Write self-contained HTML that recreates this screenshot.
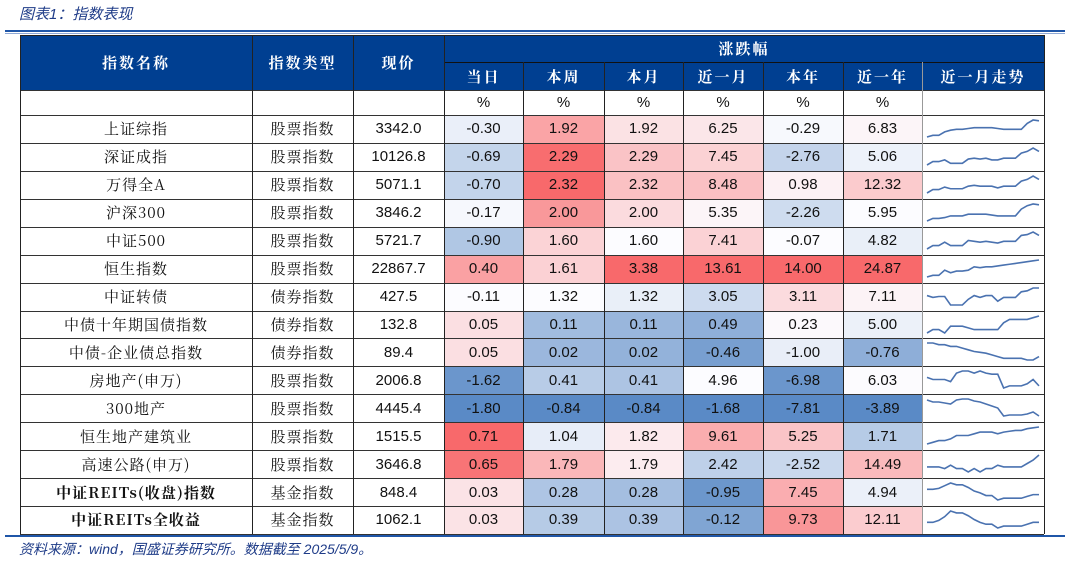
<!DOCTYPE html>
<html><head><meta charset="utf-8">
<style>
body{margin:0;width:1065px;height:562px;background:#fff;position:relative;overflow:hidden;font-family:"Liberation Sans","Noto Serif CJK SC",serif;}
.c{position:absolute;box-sizing:border-box;display:flex;align-items:center;justify-content:center;font-size:15px;color:#111;}
.h{background:#003f91;color:#fff;font-weight:bold;font-family:"Noto Serif CJK SC",serif;font-size:15px;letter-spacing:2px;}
.t{position:absolute;}
</style></head><body>
<div class="t" style="left:19px;top:3px;font-size:15px;font-style:italic;color:#1f3c88;font-family:'Liberation Sans','Noto Sans CJK SC',sans-serif;">图表1：指数表现</div>
<div class="t" style="left:5px;top:30px;width:1060px;height:2px;background:#1f56a8;"></div>
<div class="t" style="left:5px;top:33px;width:1060px;height:1px;background:#8fa9d6;"></div>
<div id="tbl"></div>
<div class="t" style="left:5px;top:535px;width:1060px;height:2px;background:#1f56a8;"></div>
<div class="t" style="left:19px;top:539px;font-size:14px;font-style:italic;color:#1f3c88;font-family:'Liberation Sans','Noto Sans CJK SC',sans-serif;">资料来源：wind，国盛证券研究所。数据截至 2025/5/9。</div>
<script>
const names=["上证综指","深证成指","万得全A","沪深300","中证500","恒生指数","中证转债","中债十年期国债指数","中债-企业债总指数","房地产(申万)","300地产","恒生地产建筑业","高速公路(申万)","中证REITs(收盘)指数","中证REITs全收益"];
const types=["股票指数","股票指数","股票指数","股票指数","股票指数","股票指数","债券指数","债券指数","债券指数","股票指数","股票指数","股票指数","股票指数","基金指数","基金指数"];
const prices=["3342.0","10126.8","5071.1","3846.2","5721.7","22867.7","427.5","132.8","89.4","2006.8","4445.4","1515.5","3646.8","848.4","1062.1"];
const colDay=[-0.30,-0.69,-0.70,-0.17,-0.90,0.40,-0.11,0.05,0.05,-1.62,-1.80,0.71,0.65,0.03,0.03];
const colWeek=[1.92,2.29,2.32,2.00,1.60,1.61,1.32,0.11,0.02,0.41,-0.84,1.04,1.79,0.28,0.39];
const colMonth=[1.92,2.29,2.32,2.00,1.60,3.38,1.32,0.11,0.02,0.41,-0.84,1.82,1.79,0.28,0.39];
const colM1=[6.25,7.45,8.48,5.35,7.41,13.61,3.05,0.49,-0.46,4.96,-1.68,9.61,2.42,-0.95,-0.12];
const colYTD=[-0.29,-2.76,0.98,-2.26,-0.07,14.00,3.11,0.23,-1.00,-6.98,-7.81,5.25,-2.52,7.45,9.73];
const colY1=[6.83,5.06,12.32,5.95,4.82,24.87,7.11,5.00,-0.76,6.03,-3.89,1.71,14.49,4.94,12.11];
const spark=[
[0,1,1,3,4,4.5,4.5,5,5.5,5.5,5.5,5.5,5,4.5,4.5,4.5,4.5,8,10,9.5],
[0,2,2,3,1,1,1,3.5,4,3.5,4,3,3,4,4,4,7,8,10,8],
[0,2,2,3.5,2.5,2.5,2.5,4,4.5,4,4,4,3,4,4,4,7,8,10,8],
[0,1.5,1.5,2,3,3,3,4,4,4,4,3.5,3,3,3,3,7,9,10,9.5],
[0,2,2,4,2,2,2,5,4.5,4,4.5,4,3.5,4.5,4.5,4.5,8,8.5,10,8],
[0,1,1,4,2.5,3.5,3.5,4,6,5.5,6,6,6.5,7,7.5,8,8.5,9,9.5,10],
[6,5,5.5,5.5,1,1,1,4,6,5,6,6,3,5,5,5,8,8.5,10,10],
[0,2,2,0,4,4,4,3,2,2,2,2,2,6,8,8,8,8,9,10],
[10,10,9,9,8,8,7,6,5,4.5,4,3,2,1,1,1,1,0,0,2],
[5,4,4,4,3,7,8,8,7,8,7,6.5,6.5,0,1,1,1,2,4,1],
[8,7,7,6.5,6,8,8.5,8.5,7.5,7,6,5,4,0,0.5,0.5,0.5,1,2,0],
[0,1,2,2,3,5,5,5,6,7,7,7,6,7,7.5,8,8,9,9.5,10],
[3,3,3,2,4,2,2,0,2,0,2,2,4,3,3,3,3,5,7,10],
[6,6,6.5,8,9.5,8.5,8.5,7,5,4,2.5,2.5,0,1,1,1,1,2,3,3],
[3,3,4,6,9,8,8,6.5,4.5,3,2,2,0,1,1,1,1,2,3,3]
];
const cols=[["当日",444,523,colDay],["本周",523,604,colWeek],["本月",604,683,colMonth],["近一月",683,763,colM1],["本年",763,843,colYTD],["近一年",843,922,colY1]];
const tbl=document.getElementById('tbl');
function cell(x,y,w,h,txt,cls,bg,name){const d=document.createElement('div');d.className='c '+(cls||'');d.style.left=x+'px';d.style.top=y+'px';d.style.width=w+'px';d.style.height=h+'px';if(bg)d.style.background=bg;d.textContent=txt;


tbl.appendChild(d);return d;}
function line(x,y,w,h,c,name){const d=document.createElement('div');d.style.cssText=`position:absolute;left:${x}px;top:${y}px;width:${w}px;height:${h}px;background:${c}`;


tbl.appendChild(d);}
const L=20,R=1044,T=35,H1=62,H2=90,H3=115,RH=27.93;
cell(L,T,R-L,H2-T,"","h",null,"header-bg");
cell(L,T,232,H2-T,"指数名称","h",null,"header-name");
cell(252,T,101,H2-T,"指数类型","h",null,"header-type");
cell(353,T,91,H2-T,"现价","h",null,"header-price");
cell(444,T,R-444,H1-T,"涨跌幅","h",null,"header-change");
cols.forEach((c,i)=>cell(c[1],H1,c[2]-c[1],H2-H1,c[0],"h",null,"header-"+i));
cell(922,H1,R-922,H2-H1,"近一月走势","h",null,"header-trend");
cols.forEach((c,i)=>cell(c[1],H2,c[2]-c[1],H3-H2,"%","",null,"unit-"+i));
function lerp(a,b,t){return a.map((v,i)=>Math.round(v+(b[i]-v)*t));}
function colorFor(arr,v){const s=[...arr].sort((a,b)=>a-b);const mn=s[0],mx=s[s.length-1],md=s[Math.floor(s.length/2)];const W=[252,252,255];
let c;if(v>=md){const t=mx===md?0:(v-md)/(mx-md);c=lerp(W,[248,105,107],t);}else{const t=(md-v)/(md-mn);c=lerp(W,[90,138,198],t);}return `rgb(${c})`;}
names.forEach((n,r)=>{const y=H3+r*RH;const bold=r>=13;
const nc=cell(L,y,232,RH,n,"",null,"row-name-"+r);nc.style.fontFamily='"Noto Serif CJK SC",serif';nc.style.letterSpacing='1px';if(bold)nc.style.fontWeight='bold';
const tc=cell(252,y,101,RH,types[r],"",null,"row-type-"+r);tc.style.fontFamily='"Noto Serif CJK SC",serif';tc.style.letterSpacing='1px';
cell(353,y,91,RH,prices[r],"",null,"row-price-"+r);
cols.forEach((c,i)=>cell(c[1],y,c[2]-c[1],RH,c[3][r].toFixed(2),"",colorFor(c[3],c[3][r]),"cell-"+r+"-"+i));
const ns="http://www.w3.org/2000/svg";const svg=document.createElementNS(ns,'svg');


svg.style.cssText=`position:absolute;left:924px;top:${y}px;width:118px;height:${RH}px`;
const d=spark[r];const mn=Math.min(...d),mx=Math.max(...d);
const px=i=>3+i*(112/(d.length-1)),py=v=>22-(v-mn)/(mx-mn||1)*17;
const p=document.createElementNS(ns,'polyline');p.setAttribute('points',d.map((v,i)=>px(i)+','+py(v)).join(' '));p.setAttribute('fill','none');p.setAttribute('stroke','#4a72b0');p.setAttribute('stroke-width','1.6');


svg.appendChild(p);tbl.appendChild(svg);
});
for(let r=0;r<=15;r++){line(L,Math.round(H3+r*RH),R-L,1,'#333',"row-line-"+r);}
line(L,H2,R-L,1,'#333',"unit-top-line");
line(444,H1,R-444,1,'#111',"header-mid-line");
[L,252,353,444,523,604,683,763,843,922,R].forEach((x,i)=>{
  if(i>=4&&i<=9) line(x,H1,1,H3+15*RH-H1,i==9?'#999':'#222',"col-line-"+i);
  else line(x,T,1,H3+15*RH-T,'#222',"col-line-"+i);
});
line(L,T,R-L,1,'#222',"table-top-line");
</script>
</body></html>
